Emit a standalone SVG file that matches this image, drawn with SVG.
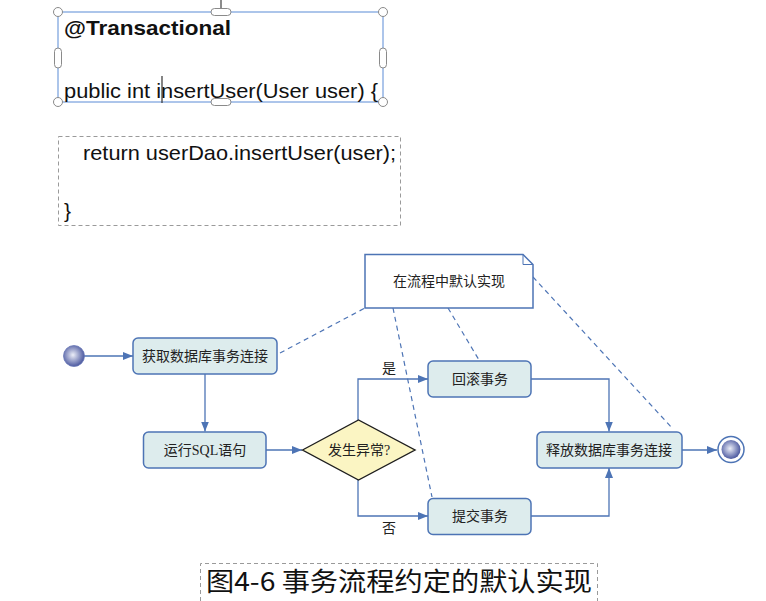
<svg xmlns="http://www.w3.org/2000/svg" width="766" height="601" viewBox="0 0 766 601">
<style>
.code{font-family:"Liberation Sans","Open Sans",sans-serif;font-size:21px;fill:#111}
.lbl{font-family:"Liberation Serif","Noto Sans CJK SC",serif;font-size:14px;fill:#222;text-anchor:middle}
.box{fill:#ddeced;stroke:#4d74b5;stroke-width:1.5}
.flow{fill:none;stroke:#4d74b5;stroke-width:1.3}
.note{fill:none;stroke:#4d74b5;stroke-width:1.2;stroke-dasharray:5 4}
.hnd{fill:#fff;stroke:#8a8a8a;stroke-width:1}
.gray{fill:none;stroke:#9a9a9a;stroke-width:1;stroke-dasharray:4 3}
</style>
<defs>
<marker id="arr" viewBox="0 0 10 8" refX="10" refY="4" markerWidth="10" markerHeight="8" markerUnits="userSpaceOnUse" orient="auto">
<path d="M0,0 L10,4 L0,8 z" fill="#4d74b5"/>
</marker>
<radialGradient id="ball" cx="0.45" cy="0.45" r="0.6">
<stop offset="0" stop-color="#eceef8"/>
<stop offset="1" stop-color="#3e4c98"/>
</radialGradient>
</defs>

<g id="code-top">
<line x1="221" y1="0" x2="221" y2="8" stroke="#666" stroke-width="1.5"/>
<rect x="58" y="12" width="325" height="90" fill="none" stroke="#5b8bd6" stroke-width="1"/>
<text class="code" x="64" y="35" font-weight="bold" textLength="167" lengthAdjust="spacingAndGlyphs">@Transactional</text>
<text class="code" x="64" y="98" textLength="314" lengthAdjust="spacingAndGlyphs">public int insertUser(User user) {</text>
<line x1="162" y1="76" x2="162" y2="103" stroke="#333" stroke-width="1.2"/>
<circle class="hnd" cx="58" cy="12" r="4.5"/>
<circle class="hnd" cx="383" cy="12" r="4.5"/>
<circle class="hnd" cx="58" cy="102" r="4.5"/>
<circle class="hnd" cx="383" cy="102" r="4.5"/>
<rect class="hnd" x="211" y="8.5" width="20" height="7" rx="3.5"/>
<rect class="hnd" x="211" y="98.5" width="20" height="7" rx="3.5"/>
<rect class="hnd" x="54.5" y="48" width="7" height="20" rx="3.5"/>
<rect class="hnd" x="379.5" y="48" width="7" height="20" rx="3.5"/>
</g>

<g id="code-body">
<rect class="gray" x="58.5" y="136.5" width="342" height="89"/>
<text class="code" x="83" y="160" textLength="313" lengthAdjust="spacingAndGlyphs">return userDao.insertUser(user);</text>
<text class="code" x="64" y="218">}</text>
</g>

<g id="connectors">
<line class="flow" x1="84" y1="356" x2="133" y2="356" marker-end="url(#arr)"/>
<line class="flow" x1="205" y1="374" x2="205" y2="431.5" marker-end="url(#arr)"/>
<line class="flow" x1="266" y1="450" x2="302" y2="450" marker-end="url(#arr)"/>
<polyline class="flow" points="358,420 358,379 428,379" marker-end="url(#arr)"/>
<polyline class="flow" points="358,480 358,516 428,516" marker-end="url(#arr)"/>
<polyline class="flow" points="531,379 609,379 609,431.5" marker-end="url(#arr)"/>
<polyline class="flow" points="531,516 609,516 609,468" marker-end="url(#arr)"/>
<line class="flow" x1="682" y1="450" x2="717" y2="450" marker-end="url(#arr)"/>
<line class="note" x1="280" y1="353" x2="365" y2="308"/>
<line class="note" x1="393" y1="308" x2="432" y2="497"/>
<line class="note" x1="448" y1="308" x2="479" y2="360"/>
<line class="note" x1="533" y1="277" x2="673" y2="429"/>
<text class="lbl" x="389" y="373">是</text>
<text class="lbl" x="389" y="533">否</text>
</g>

<g id="start">
<circle cx="74" cy="356" r="10.5" fill="url(#ball)" stroke="#6a78b8" stroke-width="0.8"/>
</g>

<g id="n-get">
<rect class="box" x="133" y="338" width="144" height="36" rx="5"/>
<text class="lbl" x="205" y="361">获取数据库事务连接</text>
</g>

<g id="n-sql">
<rect class="box" x="143.5" y="432" width="122.5" height="36" rx="5"/>
<text class="lbl" x="205" y="455">运行SQL语句</text>
</g>

<g id="n-dec">
<polygon points="302.5,450 358.5,420 415,450 358.5,480" fill="#fbf5c3" stroke="#1e1e1e" stroke-width="1.4"/>
<text class="lbl" x="359" y="455">发生异常?</text>
</g>

<g id="n-rollback">
<rect class="box" x="428" y="361" width="103" height="36" rx="5"/>
<text class="lbl" x="480" y="384">回滚事务</text>
</g>

<g id="n-commit">
<rect class="box" x="428" y="498.5" width="103" height="36" rx="5"/>
<text class="lbl" x="480" y="521">提交事务</text>
</g>

<g id="n-release">
<rect class="box" x="537" y="432" width="145" height="36" rx="5"/>
<text class="lbl" x="609" y="455">释放数据库事务连接</text>
</g>

<g id="end">
<circle cx="731" cy="449.5" r="13" fill="#fff" stroke="#4d74b5" stroke-width="1.5"/>
<circle cx="731" cy="449.5" r="9.5" fill="url(#ball)"/>
</g>

<g id="n-note">
<path d="M365,254.5 L523,254.5 L533,264.5 L533,308 L365,308 Z" fill="#fff" stroke="#4d74b5" stroke-width="1.5"/>
<path d="M523,254.5 L523,264.5 L533,264.5" fill="none" stroke="#4d74b5" stroke-width="1"/>
<text class="lbl" x="449" y="286">在流程中默认实现</text>
</g>

<g id="caption">
<path class="gray" d="M200.5,601 L200.5,563.5 L597.5,563.5 L597.5,601"/>
<text x="206" y="591" font-family="'Noto Sans CJK SC','Noto Sans',sans-serif" font-size="26" fill="#111" textLength="386" lengthAdjust="spacingAndGlyphs">图4-6 事务流程约定的默认实现</text>
</g>
</svg>
